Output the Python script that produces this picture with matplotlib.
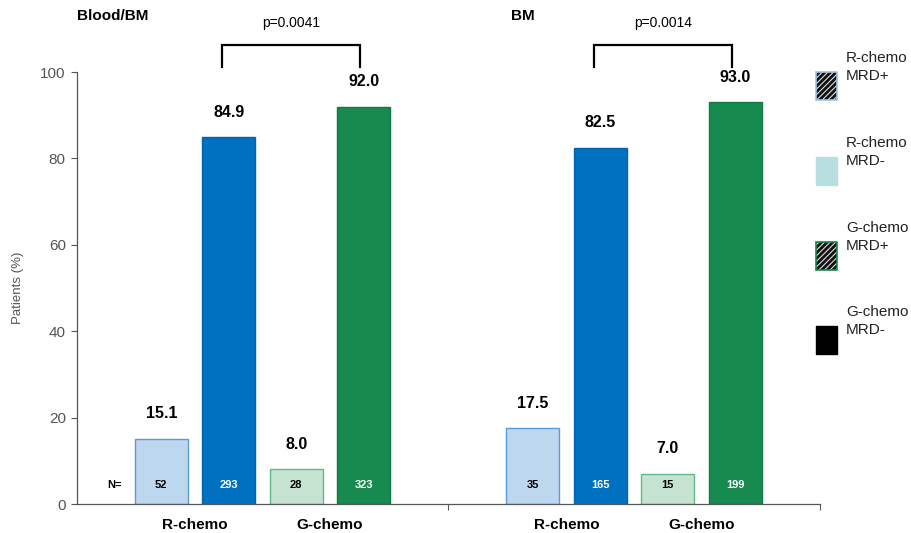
import numpy as np
from matplotlib import pyplot as plt
from matplotlib.patches import Rectangle

plt.rcParams['font.family'] = ['Liberation Sans', 'DejaVu Sans']

# MRD-negative / MRD-positive response rates by compartment
panels = ['Blood/BM', 'BM']
p_values = ['p=0.0041', 'p=0.0014']
r_pos = [15.1, 17.5]
r_neg = [84.9, 82.5]
g_pos = [8.0, 7.0]
g_neg = [92.0, 93.0]
r_pos_n = [52, 35]
r_neg_n = [293, 165]
g_pos_n = [28, 15]
g_neg_n = [323, 199]
arm_labels = ['R-chemo', 'G-chemo']
legend_labels = ['R-chemo\nMRD+', 'R-chemo\nMRD-', 'G-chemo\nMRD+', 'G-chemo\nMRD-']

light_blue, blue = '#BDD7EE', '#0070C0'
light_green, green = '#C6E3D2', '#178A50'

fig = plt.figure(figsize=(9.12, 5.33), dpi=100)
ax = fig.add_axes([0.0844, 0.0544, 0.8147, 0.8105])

offsets = np.array([0.227, 0.409, 0.590, 0.772])
width = 0.143
title_x = [0.0, 1.169]
tick_pos, tick_lab = [], []

for i in range(len(panels)):
    xs = i + offsets
    vals = [r_pos[i], r_neg[i], g_pos[i], g_neg[i]]
    ns = [r_pos_n[i], r_neg_n[i], g_pos_n[i], g_neg_n[i]]
    fills = [light_blue, blue, light_green, green]
    edges = ['#5B9BD5', '#0065AE', '#5DB88A', '#127A45']
    ncol = ['black', 'white', 'black', 'white']
    ax.bar(xs, vals, width=width, color=fills, edgecolor=edges, linewidth=1.0)
    for x, v, n, c in zip(xs, vals, ns, ncol):
        ax.text(x, v + 5.8, f'{v:.1f}', ha='center', va='center',
                fontsize=11.5, fontweight='bold')
        ax.text(x, 4.5, str(n), ha='center', va='center', fontsize=8,
                fontweight='bold', color=c)
    tick_pos += [(xs[0] + xs[1]) / 2, (xs[2] + xs[3]) / 2]
    tick_lab += arm_labels

    # significance bracket between the two MRD- bars
    bx0, bx1 = xs[1] - 0.018, xs[3] - 0.009
    ax.plot([bx0, bx0, bx1, bx1], [101.2, 106.2, 106.2, 101.2], color='black',
            lw=1.6, clip_on=False, solid_joinstyle='miter')
    ax.text((bx0 + bx1) / 2, 111.3, p_values[i], ha='center', va='center',
            fontsize=10)
    ax.text(title_x[i], 113.0, panels[i], ha='left', va='center', fontsize=11,
            fontweight='bold')

ax.text(0.1, 4.5, 'N=', ha='center', va='center', fontsize=8, fontweight='bold')

ax.set_xlim(0, 2)
ax.set_ylim(0, 100)
ax.set_yticks(range(0, 101, 20))
ax.set_xticks([1, 2])
ax.set_xticklabels([])
for x, lab in zip(tick_pos, tick_lab):
    ax.text(x, -4.8, lab, ha='center', va='center', fontsize=11,
            fontweight='bold')
ax.tick_params(axis='y', direction='out', length=4, width=0.8,
               colors='#555555', labelsize=11, labelcolor='#555555', pad=4)
ax.tick_params(axis='x', direction='out', length=4, width=0.8,
               colors='#555555')
ax.set_ylabel('Patients (%)', fontsize=9.5, color='#555555', labelpad=12)
for s in ['top', 'right']:
    ax.spines[s].set_visible(False)
for s in ['left', 'bottom']:
    ax.spines[s].set_color('#555555')
    ax.spines[s].set_linewidth(0.9)

# legend drawn at the right edge
H, W = 533, 912
patch_tops = [72, 157, 242, 326]
face = ['#111111', '#B7DFE0', '#111111', 'black']
edge = ['#9DC3E6', '#B7DFE0', '#178A50', 'black']
hatched = [True, False, True, False]
plt.rcParams['hatch.linewidth'] = 0.8
for top, lab, fc, ec, h in zip(patch_tops, legend_labels, face, edge, hatched):
    xy = (816 / W, 1 - (top + 28) / H)
    if h:
        # light hatch over dark fill, then the coloured outline on top
        fig.patches.append(Rectangle(xy, 21 / W, 28 / H, transform=fig.transFigure,
                                     facecolor=fc, edgecolor='#DDDDDD',
                                     hatch='//////', linewidth=0))
        fig.patches.append(Rectangle(xy, 21 / W, 28 / H, transform=fig.transFigure,
                                     facecolor='none', edgecolor=ec,
                                     linewidth=1.2))
    else:
        fig.patches.append(Rectangle(xy, 21 / W, 28 / H, transform=fig.transFigure,
                                     facecolor=fc, edgecolor=ec, linewidth=1.0))
    fig.text(846 / W, 1 - (top - 5) / H, lab, ha='left', va='center',
             fontsize=11, linespacing=1.3, color='#222222')

fig.savefig('out.png', dpi=100)
